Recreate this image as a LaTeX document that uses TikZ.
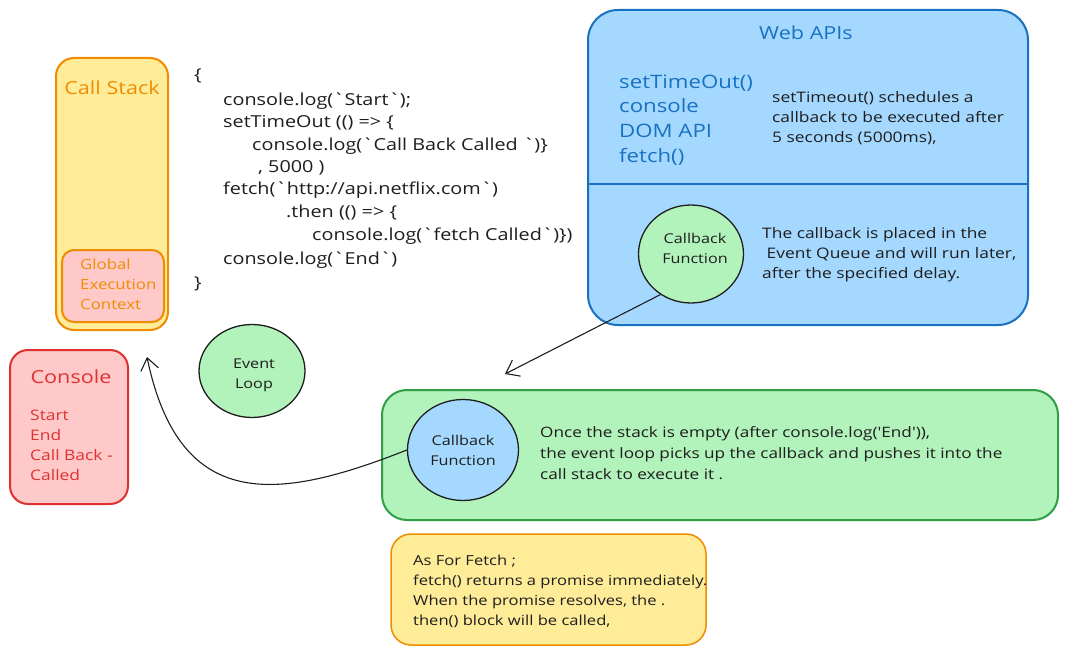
\documentclass[tikz,border=0pt]{standalone}
\usepackage{fontspec}
\setmainfont{Open Sans}[FakeStretch=1.2, Ligatures=TeXOff]
\usetikzlibrary{arrows.meta,shapes.geometric}
\definecolor{yfill}{HTML}{FFEC99}
\definecolor{ostroke}{HTML}{F08C00}
\definecolor{pfill}{HTML}{FFC9C9}
\definecolor{rstroke}{HTML}{E03131}
\definecolor{bfill}{HTML}{A5D8FF}
\definecolor{bstroke}{HTML}{1971C2}
\definecolor{gfill}{HTML}{B2F2BB}
\definecolor{gstroke}{HTML}{2F9E44}
\definecolor{ink}{HTML}{1E1E1E}
\begin{document}
\begin{tikzpicture}[x=1pt,y=-1pt,
  box/.style={draw, line width=2pt, rounded corners=18pt, inner sep=0pt},
  circ/.style={draw=ink, ellipse, line width=1.3pt, inner sep=0pt, align=center,
    font=\fontsize{13.5}{20}\selectfont, text=ink},
  lbl/.style={align=center, inner sep=0pt, text=ink, font=\fontsize{13.5}{20}\selectfont},
  title/.style={font=\fontsize{18}{22}\selectfont},
  code/.style={anchor=west, inner sep=0pt, text=ink, font=\fontsize{16.5}{20}\selectfont},
  desc/.style={anchor=west, inner sep=0pt, align=left, text=ink, font=\fontsize{14.5}{20}\selectfont},
  arr/.style={draw=ink, line width=1.1pt, -{Straight Barb[length=12pt,width=18pt,line width=1.1pt]}}
]
\useasboundingbox (0,0) rectangle (1068,655);
\fill[white] (0,0) rectangle (1068,655);

% Call stack
\node[box, fill=yfill, draw=ostroke, minimum width=112pt, minimum height=272pt] (cstack) at (112,194) {};
\node[title, text=ostroke] (cstitle) at (112,88) {Call Stack};
\node[box, fill=pfill, draw=ostroke, rounded corners=12pt, minimum width=102pt, minimum height=72pt] (gec) at (113,286) {};
\node[desc, text=ostroke, font=\fontsize{14}{20}\selectfont] (gectext) at (80,284) {Global\\Execution\\Context};

% Code
\node[code] (c1) at (194,76) {\{};
\node[code] (c2) at (223,101) {console.log(`Start`);};
\node[code] (c3) at (223,123) {setTimeOut (() => \{};
\node[code] (c4) at (252,146) {console.log(`Call Back Called `)\}};
\node[code] (c5) at (258,168) {, 5000 )};
\node[code] (c6) at (223,190) {fetch(`http://api.netflix.com`)};
\node[code] (c7) at (286,213) {.then (() => \{};
\node[code] (c8) at (312,236) {console.log(`fetch Called`)\})};
\node[code] (c9) at (223,260) {console.log(`End`)};
\node[code] (c10) at (194,284) {\}};

% Web APIs
\node[box, fill=bfill, draw=bstroke, rounded corners=30pt, minimum width=440pt, minimum height=315pt] (web) at (808,167.5) {};
\coordinate (dv) at (808,184);
\draw[bstroke, line width=2pt] (web.west |- dv) -- (web.east |- dv);
\node[title, text=bstroke] (webtitle) at (806,33) {Web APIs};
\node[desc, text=bstroke, font=\fontsize{18.5}{24.7}\selectfont] (weblist) at (619,120) {setTimeOut()\\console\\DOM API\\fetch()};
\node[desc] (webdesc) at (772,118) {setTimeout() schedules a\\callback to be executed after\\5 seconds (5000ms),};
\node[circ, fill=gfill, minimum width=105pt, minimum height=98pt] (cbw) at (691,254) {};
\node[lbl] (cbwtext) at (695,248) {Callback\\Function};
\node[desc] (qdesc) at (762,255) {The callback is placed in the\\\ Event Queue and will run later,\\after the specified delay.};
\coordinate (q) at (505,374);
\draw[arr] (cbw.233) -- (q);

% Event loop
\node[circ, fill=gfill, minimum width=106pt, minimum height=93pt] (loop) at (252,371) {};
\node[lbl] (looptext) at (254,375) {Event\\Loop};

% Console
\node[box, fill=pfill, draw=rstroke, minimum width=118pt, minimum height=154pt] (console) at (69,427) {};
\node[title, text=rstroke] (contitle) at (71,377) {Console};
\node[desc, text=rstroke, font=\fontsize{14.5}{20}\selectfont] (conlist) at (30,445) {Start\\End\\Call Back -\\Called};

% Event queue box
\node[box, fill=gfill, draw=gstroke, rounded corners=25pt, minimum width=676pt, minimum height=130pt] (queue) at (720,455) {};
\node[circ, fill=bfill, minimum width=111pt, minimum height=101pt] (cbg) at (463,450) {Callback\\Function};
\node[desc, font=\fontsize{14.3}{21}\selectfont] (loopdesc) at (540,453) {Once the stack is empty (after console.log('End')),\\the event loop picks up the callback and pushes it into the\\call stack to execute it .};
\coordinate (cs) at (147,357);
\draw[arr] (cbg.west) .. controls (280,500) and (180,515) .. (cs);

% Note
\node[box, fill=yfill, draw=ostroke, rounded corners=20pt, line width=1.5pt, minimum width=315pt, minimum height=111pt] (note) at (548.5,589.5) {};
\node[desc, font=\fontsize{13.8}{20}\selectfont] (notetext) at (413,591) {As For Fetch ;\\fetch() returns a promise immediately.\\When the promise resolves, the .\\then() block will be called,};
\end{tikzpicture}
\end{document}
